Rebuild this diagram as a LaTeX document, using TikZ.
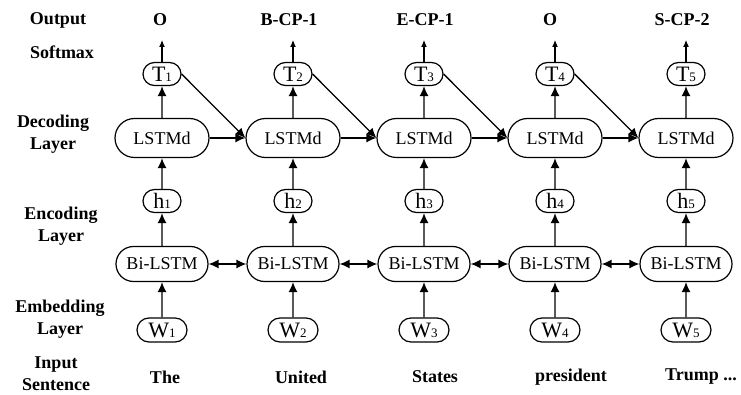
\documentclass[tikz,border=0pt]{standalone}
\usepackage{fontspec}
\setmainfont{Liberation Serif}
\usepackage{tikz}
\usetikzlibrary{positioning}
\usetikzlibrary{shapes.misc}
\usetikzlibrary{arrows.meta}

\newcommand{\cellsub}[2]{#1{\fontsize{13}{13}\selectfont #2}}

\begin{document}
\begin{tikzpicture}[x=1pt,y=-1pt,
  cell/.style={draw, rounded rectangle, line width=1.2pt, inner sep=0pt, font=\fontsize{18}{18}\selectfont},
  letter/.style={cell, minimum width=38pt, minimum height=23pt, font=\fontsize{22}{22}\selectfont},
  lstm/.style={cell, minimum width=94pt, minimum height=39pt},
  bilstm/.style={cell, minimum width=92pt, minimum height=35pt},
  word/.style={cell, minimum width=50pt, minimum height=24pt, font=\fontsize{22}{22}\selectfont},
  lab/.style={font=\bfseries\fontsize{18}{22}\selectfont, align=center, inner sep=1pt},
  flow/.style={line width=1.3pt, -{Latex[length=10pt,width=9pt]}},
  outflow/.style={line width=1.1pt, -{Latex[length=7pt,width=6pt]}},
  both/.style={line width=1.3pt, {Latex[length=10pt,width=9pt]}-{Latex[length=10pt,width=9pt]}}
]

\useasboundingbox (0,0) rectangle (741,395);

% row labels
\node[lab] (lout) at (58,20) {Output};
\node[lab] (lsoft) at (62,52) {Softmax};
\node[lab] (ldec) at (53,134) {Decoding\\Layer};
\node[lab] (lenc) at (61,226) {Encoding\\Layer};
\node[lab] (lemb) at (60,319) {Embedding\\Layer};
\node[lab] (linp) at (56,374) {Input\\Sentence};

% column 1
\node[word] (w1) at (162,330) {\cellsub{W}{1}};
\node[bilstm] (b1) at (162,264) {Bi-LSTM};
\node[letter] (h1) at (162,201) {\cellsub{h}{1}};
\node[lstm] (d1) at (162,138) {LSTMd};
\node[letter] (t1) at (162,74) {\cellsub{T}{1}};
\coordinate (o1) at (162,40);
\node[lab] (y1) at (160,20) {O};
\node[lab] (x1) at (165,377) {The};

% column 2
\node[word] (w2) at (293,330) {\cellsub{W}{2}};
\node[bilstm] (b2) at (293,264) {Bi-LSTM};
\node[letter] (h2) at (293,201) {\cellsub{h}{2}};
\node[lstm] (d2) at (293,138) {LSTMd};
\node[letter] (t2) at (293,74) {\cellsub{T}{2}};
\coordinate (o2) at (293,40);
\node[lab] (y2) at (289,20) {B-CP-1};
\node[lab] (x2) at (301,377) {United};

% column 3
\node[word] (w3) at (424,330) {\cellsub{W}{3}};
\node[bilstm] (b3) at (424,264) {Bi-LSTM};
\node[letter] (h3) at (424,201) {\cellsub{h}{3}};
\node[lstm] (d3) at (424,138) {LSTMd};
\node[letter] (t3) at (424,74) {\cellsub{T}{3}};
\coordinate (o3) at (424,40);
\node[lab] (y3) at (425,20) {E-CP-1};
\node[lab] (x3) at (435,377) {States};

% column 4
\node[word] (w4) at (555,330) {\cellsub{W}{4}};
\node[bilstm] (b4) at (555,264) {Bi-LSTM};
\node[letter] (h4) at (555,201) {\cellsub{h}{4}};
\node[lstm] (d4) at (555,138) {LSTMd};
\node[letter] (t4) at (555,74) {\cellsub{T}{4}};
\coordinate (o4) at (555,40);
\node[lab] (y4) at (550,20) {O};
\node[lab] (x4) at (571,377) {president};

% column 5
\node[word] (w5) at (686,330) {\cellsub{W}{5}};
\node[bilstm] (b5) at (686,264) {Bi-LSTM};
\node[letter] (h5) at (686,201) {\cellsub{h}{5}};
\node[lstm] (d5) at (686,138) {LSTMd};
\node[letter] (t5) at (686,74) {\cellsub{T}{5}};
\coordinate (o5) at (686,40);
\node[lab] (y5) at (682,20) {S-CP-2};
\node[lab] (x5) at (701,377) {Trump ...};

% upward arrows
\draw[flow] (w1) -- (b1);
\draw[flow] (b1) -- (h1);
\draw[flow] (h1) -- (d1);
\draw[flow] (d1) -- (t1);
\draw[outflow] (t1) -- (o1);

\draw[flow] (w2) -- (b2);
\draw[flow] (b2) -- (h2);
\draw[flow] (h2) -- (d2);
\draw[flow] (d2) -- (t2);
\draw[outflow] (t2) -- (o2);

\draw[flow] (w3) -- (b3);
\draw[flow] (b3) -- (h3);
\draw[flow] (h3) -- (d3);
\draw[flow] (d3) -- (t3);
\draw[outflow] (t3) -- (o3);

\draw[flow] (w4) -- (b4);
\draw[flow] (b4) -- (h4);
\draw[flow] (h4) -- (d4);
\draw[flow] (d4) -- (t4);
\draw[outflow] (t4) -- (o4);

\draw[flow] (w5) -- (b5);
\draw[flow] (b5) -- (h5);
\draw[flow] (h5) -- (d5);
\draw[flow] (d5) -- (t5);
\draw[outflow] (t5) -- (o5);

% decoder links
\draw[flow] (d1.east) -- (d2.west);
\draw[flow] (t1.east) -- (d2.west);
\draw[flow] (d2.east) -- (d3.west);
\draw[flow] (t2.east) -- (d3.west);
\draw[flow] (d3.east) -- (d4.west);
\draw[flow] (t3.east) -- (d4.west);
\draw[flow] (d4.east) -- (d5.west);
\draw[flow] (t4.east) -- (d5.west);

% encoder links
\draw[both] (b1.east) -- (b2.west);
\draw[both] (b2.east) -- (b3.west);
\draw[both] (b3.east) -- (b4.west);
\draw[both] (b4.east) -- (b5.west);

\end{tikzpicture}
\end{document}
